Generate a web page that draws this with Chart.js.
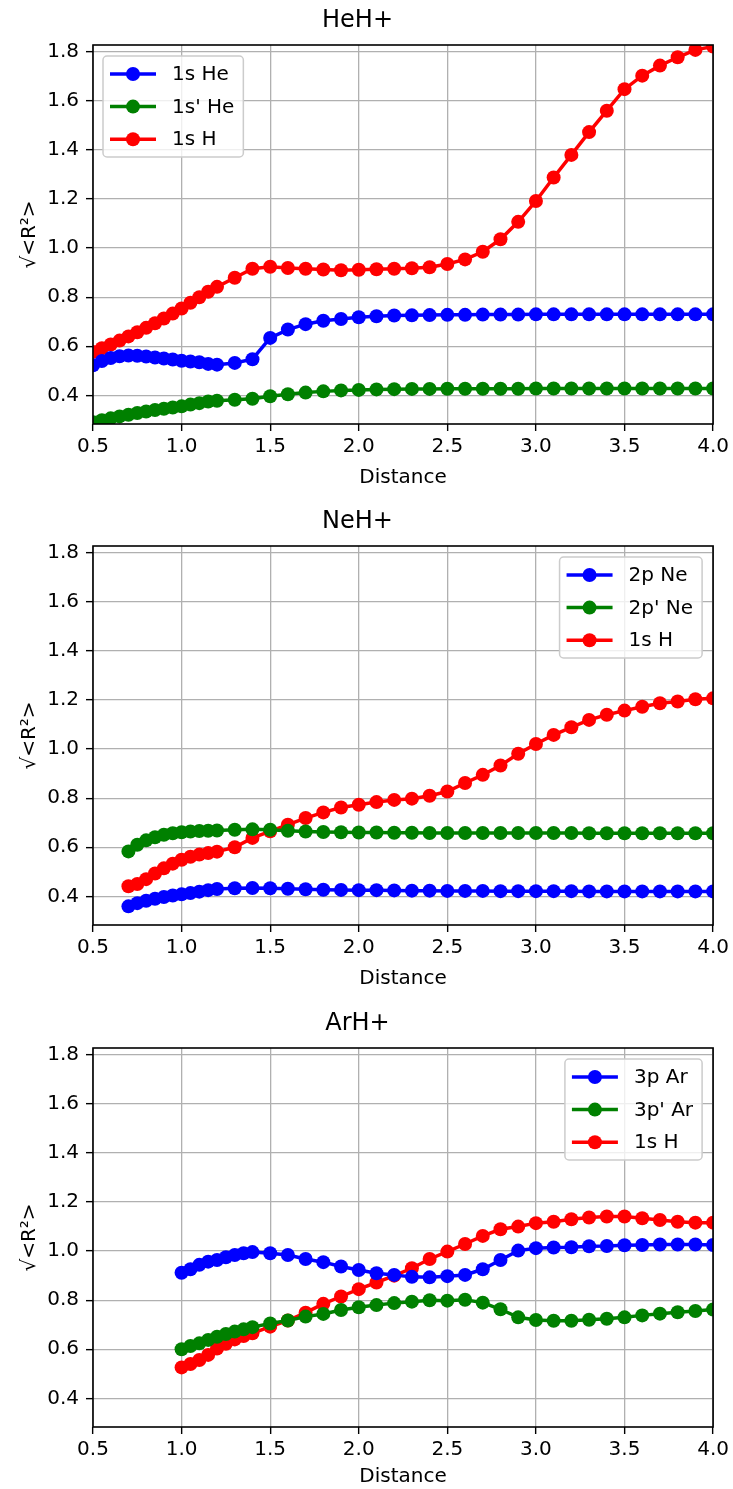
<!DOCTYPE html>
<html>
<head>
<meta charset="utf-8">
<script src="https://cdn.jsdelivr.net/npm/chart.js@4.4.0/dist/chart.umd.min.js"></script>
<style>
    html, body { margin: 0; padding: 0; background: #fff; overflow: hidden; }
    #wrap { position: relative; width: 733px; height: 1489px; }
    canvas { position: absolute; left: 0; }
</style>
</head>
<body>
<div id="wrap">
    <canvas id="heh" width="733" height="501" style="top:0px"></canvas>
    <canvas id="neh" width="733" height="502" style="top:501px"></canvas>
    <canvas id="arh" width="733" height="486" style="top:1003px"></canvas>
</div>
<script>
// ticks
const xTicks = [0.5, 1.0, 1.5, 2.0, 2.5, 3.0, 3.5, 4.0];
const yTicks = [0.4, 0.6, 0.8, 1.0, 1.2, 1.4, 1.6, 1.8];

// HeH+
const xHe = [0.5, 0.55, 0.6, 0.65, 0.7, 0.75, 0.8, 0.85, 0.9, 0.95, 1.0, 1.05, 1.1, 1.15, 1.2,
    1.3, 1.4, 1.5, 1.6, 1.7, 1.8, 1.9, 2.0, 2.1, 2.2, 2.3, 2.4, 2.5, 2.6, 2.7, 2.8, 2.9,
    3.0, 3.1, 3.2, 3.3, 3.4, 3.5, 3.6, 3.7, 3.8, 3.9, 4.0];
const he1s = [0.522, 0.540, 0.552, 0.559, 0.562, 0.561, 0.558, 0.554, 0.550, 0.546, 0.541, 0.538, 0.535, 0.528, 0.525,
    0.532, 0.547, 0.634, 0.668, 0.690, 0.704, 0.711, 0.718, 0.722, 0.725, 0.726, 0.727, 0.728, 0.728, 0.729, 0.729, 0.729,
    0.730, 0.730, 0.730, 0.730, 0.730, 0.730, 0.730, 0.730, 0.730, 0.730, 0.730];
const he1sp = [0.290, 0.298, 0.306, 0.314, 0.321, 0.328, 0.334, 0.340, 0.345, 0.350, 0.355, 0.362, 0.368, 0.375, 0.378,
    0.382, 0.386, 0.396, 0.404, 0.411, 0.416, 0.420, 0.422, 0.424, 0.425, 0.426, 0.426, 0.427, 0.427, 0.427, 0.427, 0.427,
    0.428, 0.428, 0.428, 0.428, 0.428, 0.428, 0.428, 0.428, 0.428, 0.428, 0.428];
const heH1s = [0.577, 0.592, 0.607, 0.623, 0.640, 0.657, 0.675, 0.694, 0.713, 0.733, 0.754, 0.777, 0.800, 0.822, 0.842,
    0.879, 0.916, 0.924, 0.919, 0.916, 0.913, 0.910, 0.912, 0.914, 0.916, 0.918, 0.922, 0.935, 0.954, 0.985, 1.036, 1.107,
    1.192, 1.288, 1.380, 1.473, 1.560, 1.648, 1.703, 1.744, 1.778, 1.808, 1.822];

// NeH+
const xNe = [0.7, 0.75, 0.8, 0.85, 0.9, 0.95, 1.0, 1.05, 1.1, 1.15, 1.2,
    1.3, 1.4, 1.5, 1.6, 1.7, 1.8, 1.9, 2.0, 2.1, 2.2, 2.3, 2.4, 2.5, 2.6, 2.7, 2.8, 2.9,
    3.0, 3.1, 3.2, 3.3, 3.4, 3.5, 3.6, 3.7, 3.8, 3.9, 4.0];
const ne2p = [0.359, 0.372, 0.382, 0.390, 0.397, 0.403, 0.408, 0.413, 0.419, 0.425, 0.430,
    0.433, 0.434, 0.433, 0.431, 0.429, 0.427, 0.426, 0.425, 0.425, 0.424, 0.423, 0.423, 0.422, 0.422, 0.422, 0.421, 0.421,
    0.421, 0.421, 0.421, 0.420, 0.420, 0.420, 0.420, 0.420, 0.420, 0.420, 0.420];
const ne2pp = [0.583, 0.610, 0.628, 0.641, 0.651, 0.657, 0.661, 0.664, 0.666, 0.667, 0.668,
    0.671, 0.673, 0.671, 0.667, 0.664, 0.662, 0.661, 0.660, 0.660, 0.659, 0.659, 0.658, 0.658, 0.658, 0.658, 0.658, 0.658,
    0.658, 0.658, 0.658, 0.657, 0.657, 0.657, 0.657, 0.657, 0.657, 0.657, 0.657];
const neH1s = [0.441, 0.450, 0.470, 0.493, 0.514, 0.533, 0.549, 0.561, 0.570, 0.576, 0.582,
    0.600, 0.638, 0.665, 0.692, 0.719, 0.742, 0.762, 0.773, 0.784, 0.793, 0.798, 0.810, 0.827, 0.862, 0.895, 0.933, 0.981,
    1.021, 1.058, 1.089, 1.119, 1.140, 1.157, 1.173, 1.187, 1.194, 1.203, 1.207];

// ArH+
const xAr = [1.0, 1.05, 1.1, 1.15, 1.2, 1.25, 1.3, 1.35, 1.4,
    1.5, 1.6, 1.7, 1.8, 1.9, 2.0, 2.1, 2.2, 2.3, 2.4, 2.5, 2.6, 2.7, 2.8, 2.9,
    3.0, 3.1, 3.2, 3.3, 3.4, 3.5, 3.6, 3.7, 3.8, 3.9, 4.0];
const ar3p = [0.912, 0.926, 0.944, 0.957, 0.964, 0.975, 0.984, 0.991, 0.996,
    0.991, 0.984, 0.968, 0.955, 0.937, 0.923, 0.910, 0.903, 0.895, 0.893, 0.898, 0.903, 0.926, 0.964, 1.002,
    1.012, 1.015, 1.016, 1.020, 1.021, 1.024, 1.025, 1.027, 1.027, 1.027, 1.025];
const ar3pp = [0.600, 0.613, 0.624, 0.638, 0.651, 0.662, 0.672, 0.681, 0.690,
    0.705, 0.717, 0.733, 0.744, 0.760, 0.771, 0.780, 0.788, 0.794, 0.800, 0.798, 0.802, 0.790, 0.763, 0.730,
    0.719, 0.716, 0.716, 0.720, 0.724, 0.730, 0.738, 0.745, 0.751, 0.756, 0.762];
const arH1s = [0.526, 0.540, 0.556, 0.577, 0.603, 0.622, 0.640, 0.654, 0.665,
    0.692, 0.717, 0.749, 0.785, 0.815, 0.845, 0.872, 0.900, 0.930, 0.968, 0.998, 1.029, 1.062, 1.089, 1.100,
    1.114, 1.120, 1.130, 1.137, 1.141, 1.141, 1.134, 1.127, 1.120, 1.116, 1.116];

Chart.defaults.font.family = "'DejaVu Sans', sans-serif";
Chart.defaults.color = '#000';

const FONT = { size: 20 };

// black box round the plot area (matplotlib spines)
const framePlugin = {
    id: 'frame',
    afterDatasetsDraw(chart) {
        const a = chart.chartArea;
        const ctx = chart.ctx;
        ctx.save();
        ctx.strokeStyle = '#000';
        ctx.lineWidth = 1.6;
        ctx.strokeRect(a.left, a.top, a.right - a.left, a.bottom - a.top);
        ctx.restore();
    }
};

// legend drawn inside the plot area
const legendPlugin = {
    id: 'insideLegend',
    afterDraw(chart, args, opts) {
        const a = chart.chartArea;
        const ctx = chart.ctx;
        const ds = chart.data.datasets;
        ctx.save();
        ctx.font = "20px 'DejaVu Sans', sans-serif";
        const textW = Math.max(...ds.map(d => ctx.measureText(d.label).width));
        const w = 7 + 46 + 16 + textW + 9;
        const h = 101;
        const x = opts.side === 'left' ? a.left + 10 : a.right - 11 - w;
        const y = a.top + 11;
        ctx.beginPath();
        ctx.roundRect(x, y, w, h, 4);
        ctx.fillStyle = 'rgba(255,255,255,0.8)';
        ctx.fill();
        ctx.strokeStyle = '#cccccc';
        ctx.lineWidth = 1.5;
        ctx.stroke();
        ds.forEach((d, i) => {
            const cy = y + 18 + i * 32.6;
            ctx.strokeStyle = d.borderColor;
            ctx.lineWidth = 3.5;
            ctx.beginPath();
            ctx.moveTo(x + 7, cy);
            ctx.lineTo(x + 53, cy);
            ctx.stroke();
            ctx.fillStyle = d.borderColor;
            ctx.beginPath();
            ctx.arc(x + 30, cy, 7, 0, Math.PI * 2);
            ctx.fill();
            ctx.fillStyle = '#000';
            ctx.textBaseline = 'middle';
            ctx.textAlign = 'left';
            ctx.fillText(d.label, x + 69, cy + 1);
        });
        ctx.restore();
    }
};

function series(label, xs, ys, color) {
    return {
        label: label,
        data: xs.map((x, i) => ({ x: x, y: ys[i] })),
        borderColor: color,
        backgroundColor: color,
        borderWidth: 3.5,
        pointRadius: 7,
        pointBorderWidth: 0,
        pointBackgroundColor: color,
        tension: 0,
        clip: 0
    };
}

function makePanel(id, title, datasets, side, canvasH, xTitlePad) {
    const ctx = document.getElementById(id).getContext('2d');
    return new Chart(ctx, {
        type: 'line',
        data: { datasets: datasets },
        plugins: [framePlugin, legendPlugin],
        options: {
            responsive: false,
            animation: false,
            events: [],
            layout: { padding: { left: 0, right: 18, top: 0, bottom: 0 } },
            plugins: {
                legend: { display: false },
                tooltip: { enabled: false },
                title: {
                    display: true,
                    text: title,
                    color: '#000',
                    font: { size: 24, weight: 'normal' },
                    padding: { top: 6.6, bottom: 9.6 }
                },
                insideLegend: { side: side }
            },
            scales: {
                x: {
                    type: 'linear',
                    min: 0.5,
                    max: 4.0,
                    afterBuildTicks: s => { s.ticks = xTicks.map(v => ({ value: v })); },
                    afterFit: s => { s.height = canvasH - 424; },
                    grid: { color: '#b0b0b0', lineWidth: 1.3, tickLength: 7, tickColor: '#000', tickWidth: 1.4 },
                    border: { display: false },
                    ticks: { padding: 4, font: FONT, maxRotation: 0, autoSkip: false, callback: v => v.toFixed(1) },
                    title: { display: true, text: 'Distance', font: FONT, padding: { top: 0, bottom: xTitlePad } }
                },
                y: {
                    min: 0.283,
                    max: 1.828,
                    afterBuildTicks: s => { s.ticks = yTicks.map(v => ({ value: v })); },
                    afterFit: s => { s.width = 93; },
                    grid: { color: '#b0b0b0', lineWidth: 1.3, tickLength: 7, tickColor: '#000', tickWidth: 1.4 },
                    border: { display: false },
                    ticks: { padding: 7, font: FONT, callback: v => v.toFixed(1) },
                    title: { display: true, text: '√<R²>', font: FONT, padding: { top: 18, bottom: 0 } }
                }
            }
        }
    });
}

makePanel('heh', 'HeH+', [
    series('1s He', xHe, he1s, '#0000ff'),
    series("1s' He", xHe, he1sp, '#008000'),
    series('1s H', xHe, heH1s, '#ff0000')
], 'left', 501, 11);

makePanel('neh', 'NeH+', [
    series('2p Ne', xNe, ne2p, '#0000ff'),
    series("2p' Ne", xNe, ne2pp, '#008000'),
    series('1s H', xNe, neH1s, '#ff0000')
], 'right', 502, 12);

makePanel('arh', 'ArH+', [
    series('3p Ar', xAr, ar3p, '#0000ff'),
    series("3p' Ar", xAr, ar3pp, '#008000'),
    series('1s H', xAr, arH1s, '#ff0000')
], 'right', 486, 0);
</script>
</body>
</html>
